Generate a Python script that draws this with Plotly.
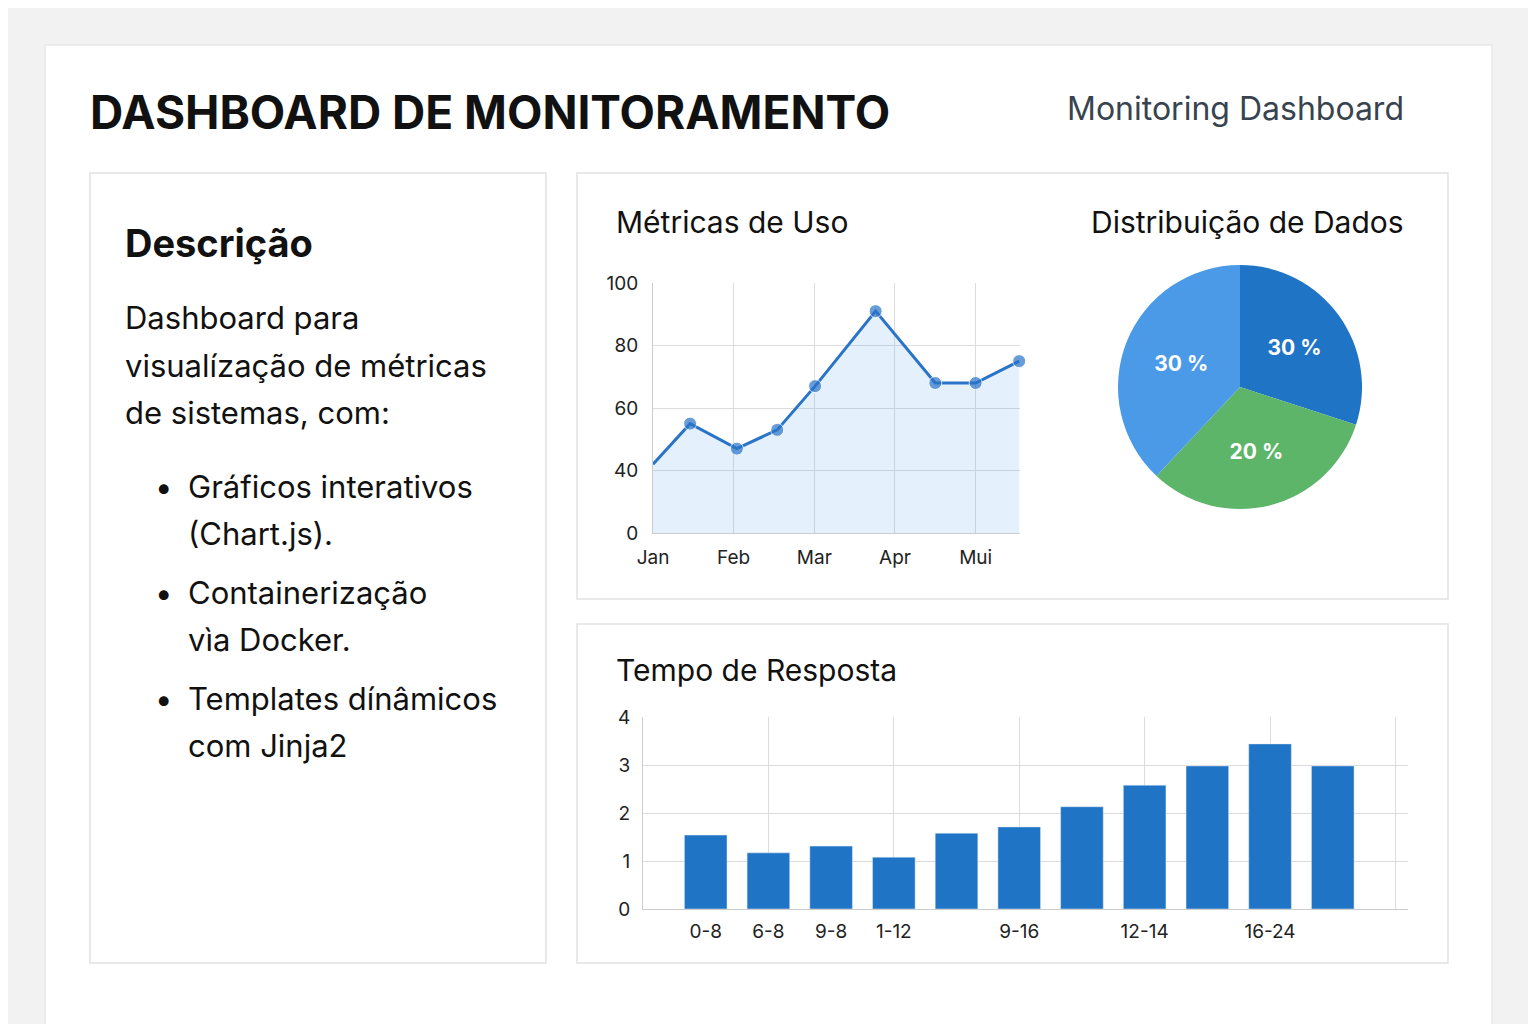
import plotly.graph_objects as go

W, H = 1528, 1016
OFF = 8
def px(x): return (x - OFF) / W
def py(y): return 1 - (y - OFF) / H

# Line chart data (month index positions)
line_x = [0, 0.46, 1.04, 1.54, 2.01, 2.76, 3.5, 4.0, 4.54]
line_y = [42, 55, 47, 53, 67, 91, 68, 68, 75]
months = ["Jan", "Feb", "Mar", "Apr", "Mui"]
y_tickvals = [20, 40, 60, 80, 100]
y_ticktext = ["0", "40", "60", "80", "100"]

# Pie data
pie_values = [30, 32, 38]
pie_text = ["<b>30 %</b>", "<b>20 %</b>", "<b>30 %</b>"]
pie_colors = ["#1f74c6", "#5db56a", "#4a9ae8"]

# Bar data
bar_vals = [1.54, 1.17, 1.31, 1.08, 1.58, 1.71, 2.13, 2.58, 2.98, 3.44, 2.98]
bar_tick_idx = [0, 1, 2, 3, 5, 7, 9]
bar_tick_text = ["0-8", "6-8", "9-8", "1-12", "9-16", "12-14", "16-24"]

FONT = "Inter, Noto Sans, sans-serif"
fig = go.Figure()

fig.add_trace(go.Scatter(x=line_x, y=line_y, mode="lines+markers", fill="tozeroy",
    fillcolor="rgba(74,154,232,0.15)", line=dict(color="#2a74c8", width=3),
    marker=dict(size=[0, 13, 13, 13, 13, 13, 13, 13, 13], color="#2a74c8"),
    xaxis="x", yaxis="y", showlegend=False, cliponaxis=False))

fig.add_trace(go.Pie(values=pie_values, text=pie_text, textinfo="text", sort=False,
    direction="clockwise", rotation=0, marker=dict(colors=pie_colors, line=dict(width=0)),
    textfont=dict(color="white", size=21, family=FONT), textposition="inside",
    domain=dict(x=[px(1118), px(1362)], y=[py(509), py(265)]), showlegend=False,
    hoverinfo="skip"))

fig.add_trace(go.Bar(x=list(range(len(bar_vals))), y=bar_vals, marker_color="#1f74c6",
    width=0.68, xaxis="x2", yaxis="y2", showlegend=False))

ax_font = dict(family=FONT, size=19, color="#222")
fig.update_layout(
    width=W, height=H, margin=dict(l=0, r=0, t=0, b=0, autoexpand=False),
    paper_bgcolor="#f2f2f2", plot_bgcolor="rgba(0,0,0,0)",
    xaxis=dict(domain=[px(653), px(1020)], range=[0, 4.55], tickvals=[0, 1, 2, 3, 4],
               ticktext=months, showgrid=True, gridcolor="#dcdcdc", zeroline=False,
               showline=True, linecolor="#cccccc", tickfont=ax_font, ticks="", anchor="y",
               automargin=False, ticklabelstandoff=7),
    yaxis=dict(domain=[py(533), py(283)], range=[20, 100], tickvals=y_tickvals,
               ticktext=y_ticktext, showgrid=True, gridcolor="#dcdcdc", zeroline=False,
               showline=True, linecolor="#cccccc", tickfont=ax_font, anchor="x",
               automargin=False, ticklabelstandoff=10),
    xaxis2=dict(domain=[px(643), px(1408)], range=[-1, 11.2], tickvals=bar_tick_idx,
                ticktext=bar_tick_text, showgrid=False, zeroline=False, tickfont=ax_font,
                minor=dict(tick0=1, dtick=2, showgrid=True, gridcolor="#dcdcdc"),
                showline=True, linecolor="#cccccc", anchor="y2", automargin=False,
                ticklabelstandoff=5),
    yaxis2=dict(domain=[py(909), py(717)], range=[0, 4], dtick=1, showgrid=True,
                gridcolor="#dcdcdc", zeroline=False, tickfont=ax_font, anchor="x2",
                showline=True, linecolor="#cccccc", automargin=False, ticklabelstandoff=8),
    font=dict(family=FONT),
)

def card(x0, y0, x1, y1, line="#e2e2e2"):
    fig.add_shape(type="rect", xref="paper", yref="paper", x0=px(x0), x1=px(x1),
                  y0=py(y1), y1=py(y0), fillcolor="white", line=dict(color=line, width=1.5),
                  layer="below")
card(45, 45, 1492, 1030, line="#e8e8e8")
card(90, 173, 546, 963)
card(577, 173, 1448, 599)
card(577, 624, 1448, 963)

def txt(x, y, s, size, color="#111", bold=False, anchor="left"):
    if bold: s = "<b>" + s + "</b>"
    fig.add_annotation(xref="paper", yref="paper", x=px(x), y=py(y), text=s, showarrow=False,
                       xanchor=anchor, yanchor="middle", align="left",
                       font=dict(family=FONT, size=size, color=color))

txt(88, 112, "DASHBOARD DE MONITORAMENTO", 46, bold=True)
txt(1406, 108, "Monitoring Dashboard", 32, color="#37434f", anchor="right")
txt(123, 243, "Descrição", 38, bold=True)
for i, s in enumerate(["Dashboard para", "visualízação de métricas", "de sistemas, com:"]):
    txt(123, 317 + i * 48, s, 31)
bullets = [["Gráficos interativos", "(Chart.js)."], ["Containerização", "vìa Docker."],
           ["Templates dínâmicos", "com Jinja2"]]
for i, b in enumerate(bullets):
    y = 486 + i * 106
    txt(153, y, "•", 31)
    for j, s in enumerate(b):
        txt(186, y + j * 47, s, 31)
txt(614, 222, "Métricas de Uso", 30)
txt(1406, 222, "Distribuição de Dados", 30, anchor="right")
txt(614, 670, "Tempo de Resposta", 30)

fig.write_html("out.html")
